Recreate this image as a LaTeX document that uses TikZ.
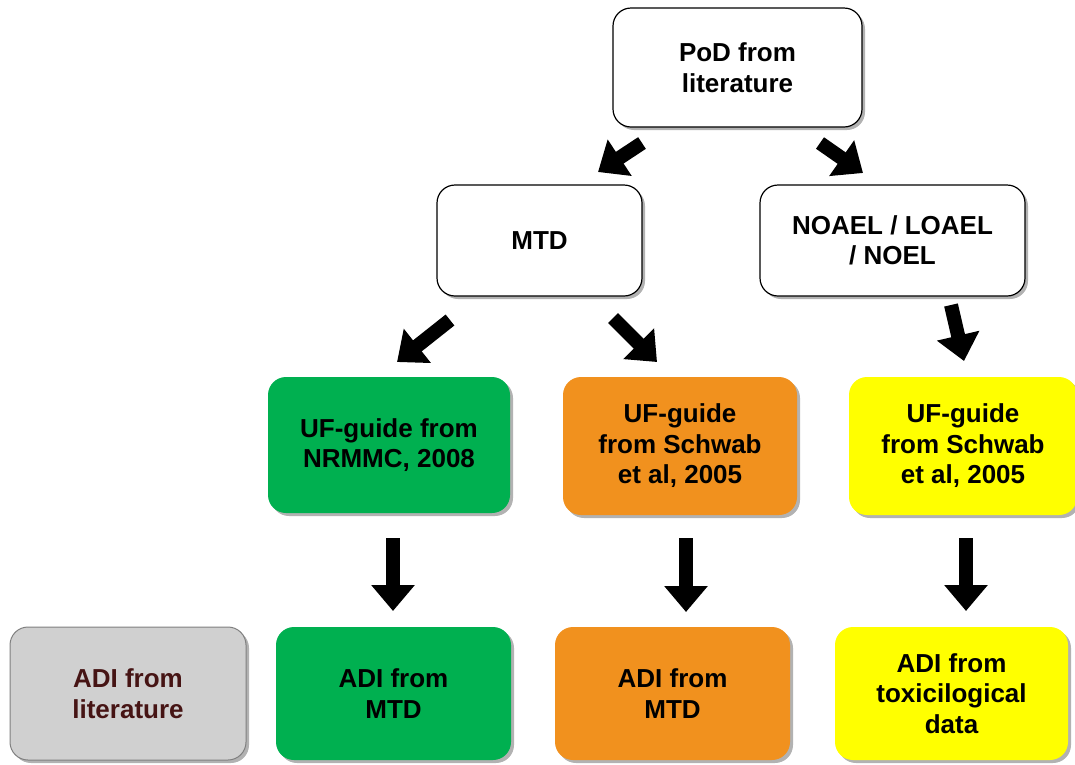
\documentclass[tikz,border=0pt]{standalone}
\usepackage{fontspec}
\setmainfont{Liberation Sans}
\usetikzlibrary{arrows.meta,shadows,positioning}
\definecolor{ufgreen}{RGB}{0,176,80}
\definecolor{uforange}{RGB}{241,145,30}
\definecolor{ufyellow}{RGB}{255,255,0}
\definecolor{litgray}{RGB}{208,208,208}
\definecolor{litred}{RGB}{70,20,20}

\begin{document}
\begin{tikzpicture}[x=1pt, y=-1pt,
    box/.style={rounded corners=18pt, align=center, inner sep=0pt,
        font=\bfseries\fontsize{26}{30.5}\selectfont,
        drop shadow={shadow xshift=3pt, shadow yshift=-3pt, fill=black!30, opacity=1}},
    plain/.style={box, draw, fill=white, line width=1.2pt},
    blockarrow/.style={-{Triangle[width=42pt,length=26pt]}, line width=14pt}]
    \useasboundingbox (0,0) rectangle (1075,764);

    % Top of the tree
    \node[plain, minimum width=249pt, minimum height=119pt] (pod) at (737.5,67.5) {PoD from\\literature};
    \node[plain, minimum width=205pt, minimum height=111pt] (mtd) at (539.5,240.5) {MTD};
    \node[plain, minimum width=265pt, minimum height=111pt] (noael) at (892.5,240.5) {NOAEL / LOAEL\\/ NOEL};

    % UF guides
    \node[box, fill=ufgreen, minimum width=242pt, minimum height=136pt] (ufnrmmc) at (389,445) {UF-guide from\\NRMMC, 2008};
    \node[box, fill=uforange, minimum width=234pt, minimum height=138pt] (ufschwabo) at (680,446) {UF-guide\\from Schwab\\et al, 2005};
    \node[box, fill=ufyellow, minimum width=228pt, minimum height=138pt] (ufschwaby) at (963,446) {UF-guide\\from Schwab\\et al, 2005};

    % ADI values
    \node[box, draw=gray, line width=1pt, fill=litgray, text=litred, minimum width=236pt, minimum height=133pt] (adilit) at (128,693.5) {ADI from\\literature};
    \node[box, fill=ufgreen, minimum width=235pt, minimum height=133pt] (adimtdg) at (393.5,693.5) {ADI from\\MTD};
    \node[box, fill=uforange, minimum width=235pt, minimum height=133pt] (adimtdo) at (672.5,693.5) {ADI from\\MTD};
    \node[box, fill=ufyellow, minimum width=233pt, minimum height=133pt] (aditox) at (951.5,693.5) {ADI from\\toxicilogical\\data};

    % Block arrows between the levels
    \coordinate (podl1) at (642,143);  \coordinate (podl2) at (598,172);
    \coordinate (podr1) at (820,143);  \coordinate (podr2) at (863,173);
    \coordinate (mtdl1) at (450,320);  \coordinate (mtdl2) at (397,362);
    \coordinate (mtdr1) at (613,318);  \coordinate (mtdr2) at (657,362);
    \coordinate (noel1) at (951,305);  \coordinate (noel2) at (964,361);
    \coordinate (ufg1) at (393,538);   \coordinate (ufg2) at (393,611);
    \coordinate (ufo1) at (686,538);   \coordinate (ufo2) at (686,612);
    \coordinate (ufy1) at (966,538);   \coordinate (ufy2) at (966,611);

    \draw[blockarrow] (podl1) -- (podl2);
    \draw[blockarrow] (podr1) -- (podr2);
    \draw[blockarrow] (mtdl1) -- (mtdl2);
    \draw[blockarrow] (mtdr1) -- (mtdr2);
    \draw[blockarrow] (noel1) -- (noel2);
    \draw[blockarrow] (ufg1) -- (ufg2);
    \draw[blockarrow] (ufo1) -- (ufo2);
    \draw[blockarrow] (ufy1) -- (ufy2);
\end{tikzpicture}
\end{document}
